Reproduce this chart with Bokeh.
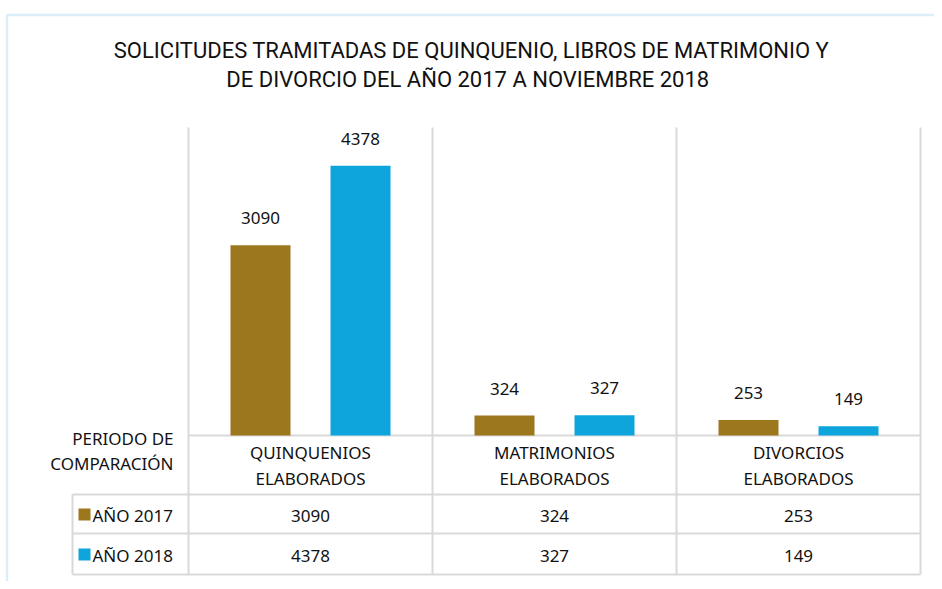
import numpy as np
from bokeh.plotting import figure
from bokeh.models import Range1d
from bokeh.core.properties import value
from bokeh.embed import file_html
from bokeh.resources import INLINE

# ---------------- data ----------------
title_lines = ["SOLICITUDES TRAMITADAS DE QUINQUENIO, LIBROS DE MATRIMONIO Y",
               "DE DIVORCIO DEL AÑO 2017 A NOVIEMBRE  2018"]
cat_line1 = ["QUINQUENIOS", "MATRIMONIOS", "DIVORCIOS"]
cat_line2 = ["ELABORADOS", "ELABORADOS", "ELABORADOS"]
series_names = ["AÑO 2017", "AÑO 2018"]
values_2017 = [3090, 324, 253]
values_2018 = [4378, 327, 149]
table_header = ["PERIODO DE", "COMPARACIÓN"]
y_max = 5000

# ---------------- styles / layout ----------------
colors = ["#9D771E", "#0EA5DD"]
grid_col = "#D9D9D9"
txt_col = "#111111"
font_title = "Roboto"
font_txt = "Noto Sans"

W, H = 934, 581
base_px, top_px = 435, 127      # baseline / top of value axis (px)
cat0_px, cat_w = 188, 244       # left of first category, width of category
scale = (base_px - top_px) / y_max

p = figure(width=W, height=H, output_backend="svg", toolbar_location=None,
           x_range=Range1d(-cat0_px / cat_w, (W - cat0_px) / cat_w),
           y_range=Range1d(-(H - base_px) / scale, y_max + top_px / scale),
           x_axis_location=None, y_axis_location=None,
           min_border=0, outline_line_color=None)
p.extra_x_ranges = {"px": Range1d(0, W)}
p.extra_y_ranges = {"px": Range1d(H, 0)}
p.grid.visible = False
p.background_fill_color = "white"
p.border_fill_color = "white"

n = len(cat_line1)
idx = np.arange(n)
centers = idx + 0.5
bar_w = 60 / cat_w
off = 50 / cat_w

# page frame (light blue)
p.segment(x0=[6, 6.5], y0=[14.5, 14], x1=[W, 6.5], y1=[14.5, H], x_range_name="px",
          y_range_name="px", line_color="#DCEEFA", line_width=2.5)

# category separators
bounds = np.arange(n + 1)
p.segment(x0=bounds, x1=bounds, y0=[127] * (n + 1), y1=[574] * (n + 1),
          y_range_name="px", line_color=grid_col, line_width=2)
# baseline
p.segment(x0=[0], x1=[n], y0=[0], y1=[0], line_color=grid_col, line_width=2)
# table horizontal lines
p.segment(x0=[72, 72, 72], x1=[920, 920, 920], y0=[494, 533, 574], y1=[494, 533, 574],
          x_range_name="px", y_range_name="px", line_color=grid_col, line_width=2)
p.segment(x0=[72], x1=[72], y0=[494], y1=[574],
          x_range_name="px", y_range_name="px", line_color=grid_col, line_width=2)

# bars
for k, (vals, col) in enumerate(zip([values_2017, values_2018], colors)):
    xs = centers + (-off if k == 0 else off)
    p.vbar(x=xs, top=vals, bottom=0, width=bar_w, fill_color=col, line_color=None)
    p.text(x=xs, y=vals, text=[str(v) for v in vals], y_offset=-27,
           text_align="center", text_baseline="middle", text_color=txt_col,
           text_font=value(font_txt), text_font_size="17px")

# title
p.text(x=[471, 470], y=[50, 79], text=title_lines, x_range_name="px", y_range_name="px",
       text_align="center", text_baseline="middle", text_color=txt_col,
       text_font=value(font_title), text_font_size="22px")

# category labels (table header)
p.text(x=centers, y=[452] * n, text=cat_line1, y_range_name="px",
       text_align="center", text_baseline="middle", text_color=txt_col,
       text_font=value(font_txt), text_font_size="17px")
p.text(x=centers, y=[478] * n, text=cat_line2, y_range_name="px",
       text_align="center", text_baseline="middle", text_color=txt_col,
       text_font=value(font_txt), text_font_size="17px")
p.text(x=[173, 173], y=[438, 463], text=table_header, x_range_name="px", y_range_name="px",
       text_align="right", text_baseline="middle", text_color=txt_col,
       text_font=value(font_txt), text_font_size="17px")

# table rows
row_y = [515, 555]
for k, (vals, col, name) in enumerate(zip([values_2017, values_2018], colors, series_names)):
    p.rect(x=[84], y=[row_y[k] - 1], width=12, height=12, x_range_name="px",
           y_range_name="px", fill_color=col, line_color=None)
    p.text(x=[92], y=[row_y[k]], text=[name], x_range_name="px", y_range_name="px",
           text_align="left", text_baseline="middle", text_color=txt_col,
           text_font=value(font_txt), text_font_size="17px")
    p.text(x=centers, y=[row_y[k]] * n, text=[str(v) for v in vals], y_range_name="px",
           text_align="center", text_baseline="middle", text_color=txt_col,
           text_font=value(font_txt), text_font_size="17px")

open("out.html", "w").write(file_html(p, INLINE))
